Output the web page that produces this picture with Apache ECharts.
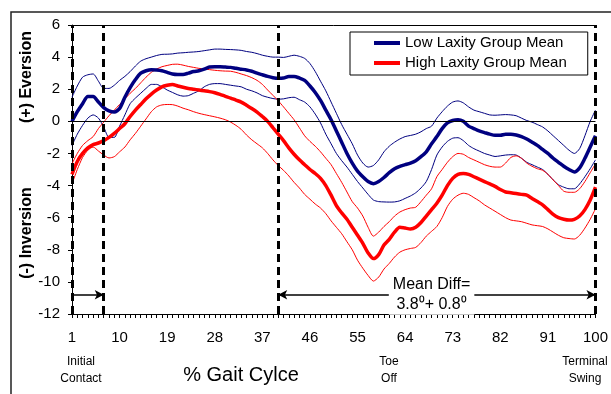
<!DOCTYPE html>
<html><head><meta charset="utf-8">
<script src="https://cdn.jsdelivr.net/npm/echarts@6/dist/echarts.min.js"></script>
<style>html,body{margin:0;padding:0;background:#fff}#c{width:611px;height:394px}</style>
</head><body><div id="c"></div>
<script>
const categories = ['1','2','3','4','5','6','7','8','9','10','11','12','13','14','15','16','17','18','19','20',
'21','22','23','24','25','26','27','28','29','30','31','32','33','34','35','36','37','38','39','40',
'41','42','43','44','45','46','47','48','49','50','51','52','53','54','55','56','57','58','59','60',
'61','62','63','64','65','66','67','68','69','70','71','72','73','74','75','76','77','78','79','80',
'81','82','83','84','85','86','87','88','89','90','91','92','93','94','95','96','97','98','99','100'];
const xTickLabels = ['1','10','19','28','37','46','55','64','73','82','91','100'];
const yMin = -12, yMax = 6, yStep = 2;

const lowMean = [
0.0,0.6,1.1,1.55,1.55,1.2,0.85,0.65,0.58,0.8,
1.5,2.1,2.6,3.0,3.15,3.22,3.2,3.15,3.05,2.95,
2.92,2.92,3.0,3.1,3.15,3.25,3.38,3.4,3.4,3.38,
3.36,3.3,3.25,3.2,3.12,3.0,2.9,2.8,2.72,2.68,
2.7,2.8,2.8,2.7,2.55,2.2,1.8,1.3,0.7,0.1,
-0.6,-1.3,-2.0,-2.6,-3.1,-3.45,-3.75,-3.88,-3.75,-3.5,
-3.2,-2.95,-2.8,-2.7,-2.6,-2.45,-2.2,-1.9,-1.4,-0.95,
-0.45,-0.1,0.05,0.1,0.0,-0.3,-0.45,-0.6,-0.7,-0.8,
-0.87,-0.87,-0.8,-0.8,-0.85,-0.95,-1.1,-1.3,-1.5,-1.75,
-2.0,-2.3,-2.55,-2.8,-3.0,-3.15,-2.9,-2.3,-1.6,-0.9];
const lowUpper = [
1.5,2.2,2.75,2.9,2.95,2.5,2.05,2.05,2.25,2.55,
2.8,3.1,3.45,3.75,3.9,4.0,4.1,4.17,4.18,4.2,
4.25,4.27,4.3,4.32,4.35,4.4,4.45,4.5,4.5,4.48,
4.47,4.45,4.42,4.35,4.3,4.22,4.12,4.05,4.0,4.0,
3.98,4.05,4.12,4.05,3.92,3.6,3.1,2.5,1.9,1.2,
0.5,-0.2,-0.8,-1.4,-2.1,-2.6,-2.85,-2.75,-2.4,-1.9,
-1.55,-1.3,-1.1,-0.95,-0.88,-0.8,-0.65,-0.45,-0.3,0.2,
0.6,0.95,1.2,1.27,1.15,0.9,0.7,0.6,0.5,0.4,
0.38,0.4,0.42,0.4,0.35,0.2,0.05,-0.05,-0.2,-0.35,
-0.6,-0.9,-1.2,-1.5,-1.8,-2.0,-1.7,-0.9,0.0,0.7];
const lowLower = [
-1.5,-0.8,-0.25,0.2,0.4,0.2,-0.35,-1.0,-1.0,-0.3,
0.4,1.1,1.45,1.75,2.05,2.3,2.3,2.15,1.95,1.8,
1.65,1.57,1.6,1.75,1.9,2.15,2.3,2.35,2.35,2.3,
2.25,2.2,2.15,2.0,1.9,1.77,1.6,1.5,1.42,1.38,
1.4,1.47,1.5,1.35,1.2,0.9,0.45,-0.1,-0.8,-1.4,
-2.0,-2.45,-2.85,-3.3,-3.75,-4.15,-4.55,-4.9,-5.0,-5.02,
-5.03,-5.02,-4.95,-4.8,-4.65,-4.45,-4.15,-3.75,-3.0,-2.1,
-1.6,-1.25,-1.05,-1.02,-1.2,-1.5,-1.7,-1.85,-2.0,-2.1,
-2.19,-2.15,-2.1,-2.08,-2.1,-2.3,-2.55,-2.7,-2.85,-3.0,
-3.3,-3.65,-3.95,-4.1,-4.2,-4.2,-3.9,-3.45,-2.95,-2.4];
const highMean = [
-3.3,-2.5,-2.0,-1.65,-1.45,-1.35,-1.2,-1.0,-0.75,-0.45,
-0.15,0.3,0.7,1.05,1.4,1.7,1.95,2.15,2.25,2.3,
2.2,2.12,2.05,2.0,1.95,1.9,1.85,1.78,1.68,1.56,
1.45,1.32,1.2,1.0,0.8,0.58,0.3,0.0,-0.4,-0.8,
-1.2,-1.65,-2.05,-2.4,-2.7,-3.0,-3.25,-3.55,-4.0,-4.6,
-5.25,-5.7,-6.1,-6.6,-7.1,-7.6,-8.2,-8.55,-8.3,-7.7,
-7.35,-6.9,-6.6,-6.65,-6.7,-6.6,-6.3,-5.9,-5.5,-5.1,
-4.6,-4.0,-3.55,-3.3,-3.25,-3.3,-3.45,-3.6,-3.75,-3.9,
-4.05,-4.25,-4.4,-4.45,-4.5,-4.55,-4.6,-4.8,-5.0,-5.2,
-5.5,-5.8,-6.0,-6.1,-6.15,-6.1,-5.9,-5.5,-4.9,-4.1];
const highUpper = [
-2.65,-2.0,-1.5,-1.2,-0.95,-0.45,-0.05,0.35,0.7,1.05,
1.4,1.75,2.05,2.4,2.75,3.05,3.25,3.4,3.48,3.55,
3.56,3.5,3.42,3.36,3.3,3.26,3.22,3.18,3.15,3.13,
3.12,3.05,2.95,2.85,2.72,2.55,2.3,1.95,1.62,1.28,
0.9,0.5,0.1,-0.4,-0.9,-1.25,-1.55,-1.9,-2.3,-2.7,
-3.25,-3.8,-4.4,-5.0,-5.4,-5.9,-6.6,-7.15,-6.9,-6.55,
-6.25,-5.9,-5.65,-5.5,-5.4,-5.35,-5.0,-4.6,-4.2,-3.45,
-3.0,-2.55,-2.2,-2.0,-2.05,-2.25,-2.4,-2.55,-2.7,-2.8,
-2.85,-2.85,-2.6,-2.25,-2.15,-2.3,-2.6,-2.8,-2.95,-3.05,
-3.3,-3.65,-4.0,-4.35,-4.42,-4.42,-4.2,-3.75,-3.2,-2.65];
const highLower = [
-3.9,-3.0,-2.25,-1.8,-1.6,-1.85,-2.1,-2.28,-2.2,-1.9,
-1.6,-1.15,-0.75,-0.3,0.15,0.6,0.9,1.02,1.05,1.04,
0.95,0.82,0.72,0.6,0.5,0.42,0.35,0.28,0.2,0.1,
-0.05,-0.25,-0.5,-0.85,-1.15,-1.4,-1.65,-2.0,-2.4,-2.75,
-3.05,-3.4,-3.8,-4.15,-4.55,-4.85,-5.15,-5.4,-5.75,-6.2,
-6.6,-7.0,-7.5,-8.0,-8.65,-9.15,-9.6,-9.95,-9.7,-9.2,
-8.85,-8.45,-8.15,-8.0,-7.92,-7.85,-7.55,-7.15,-6.85,-6.55,
-6.0,-5.3,-4.85,-4.6,-4.48,-4.55,-4.75,-4.95,-5.2,-5.4,
-5.6,-5.8,-6.0,-6.15,-6.2,-6.25,-6.35,-6.45,-6.5,-6.55,
-6.7,-6.9,-7.1,-7.25,-7.3,-7.33,-7.1,-6.65,-6.1,-5.45];

const phaseLines = ['1','7','40','100'];
const arrowY = -10.8;
const shortArrow = ['1','7'];
const longArrow = ['40','100'];
const diffLabelAt = '69';
const diffText = 'Mean Diff=\n3.8\u2070+ 0.8\u2070';
const legendNames = ['Low Laxity Group Mean','High Laxity Group Mean'];

const FONT = '"Liberation Sans", Arial, sans-serif';
const NAVY = '#000080', RED = '#ff0000';
const idx = c => categories.indexOf(c);

function line(name, data, color, width, z) {
  return {name, type:'line', data, symbol:'none', smooth:0.25, silent:true,
    lineStyle:{color, width}, itemStyle:{color}, z, animation:false};
}

const chart = echarts.init(document.getElementById('c'), null, {renderer:'canvas'});
chart.setOption({
  animation:false,
  backgroundColor:'#fff',
  grid:{left:72, right:8, top:25, bottom:80},
  legend:{data:legendNames, left:350, top:32, orient:'vertical', borderColor:'#000', borderWidth:1,
    padding:[3,21,4,24], itemGap:4, itemWidth:26, itemHeight:4, icon:'rect', selectedMode:false,
    textStyle:{fontSize:15, fontFamily:FONT, color:'#000', lineHeight:16}},
  xAxis:[{type:'category', data:categories, boundaryGap:false,
    axisLine:{onZero:false, lineStyle:{color:'#000', width:1}},
    axisTick:{show:true, interval:0, length:4, lineStyle:{color:'#000', width:1}},
    axisLabel:{interval:(i,v)=>xTickLabels.includes(v), fontSize:15, fontFamily:FONT, color:'#000', margin:16},
    splitLine:{show:false}},
   {type:'category', data:categories, boundaryGap:false, position:'top',
    axisLine:{show:true, onZero:false, lineStyle:{color:'#000', width:1}}, axisTick:{show:false}, axisLabel:{show:false}, splitLine:{show:false}}],
  yAxis:{type:'value', min:yMin, max:yMax, interval:yStep,
    axisLine:{show:true, onZero:false, lineStyle:{color:'#000', width:1}},
    axisTick:{show:true, length:4, lineStyle:{color:'#000'}},
    axisLabel:{fontSize:15, fontFamily:FONT, color:'#000', margin:12},
    splitLine:{show:false}},
  series:[
    line('Low Upper', lowUpper, NAVY, 1, 2),
    line('Low Lower', lowLower, NAVY, 1, 2),
    line('High Upper', highUpper, RED, 1, 2),
    line('High Lower', highLower, RED, 1, 2),
    line(legendNames[0], lowMean, NAVY, 3.5, 3),
    line(legendNames[1], highMean, RED, 3.5, 3),
    {name:'annot', type:'line', data:[], silent:true, z:4,
      markLine:{silent:true, symbol:['none','none'], animation:false, label:{show:false},
        data:[
          {yAxis:0, lineStyle:{color:'#000', width:1, type:'solid'}},
          ...phaseLines.map(c=>({xAxis:idx(c), lineStyle:{color:'#000', width:3, type:[8,5]}})),
          [{coord:[idx(shortArrow[0]), arrowY], symbol:'none', lineStyle:{color:'#000', width:1.5, type:'solid'}},
           {coord:[idx(shortArrow[1]), arrowY], symbol:'arrow', symbolSize:[7,9]}],
          [{coord:[idx(longArrow[0]), arrowY], symbol:'arrow', symbolSize:[7,9], lineStyle:{color:'#000', width:1.5, type:'solid'}},
           {coord:[idx(longArrow[1]), arrowY], symbol:'arrow', symbolSize:[7,9]}]
        ]}},
    {name:'annotText', type:'line', data:[], silent:true, z:6,
      markPoint:{silent:true, animation:false, symbol:'circle', symbolSize:0,
        data:[{coord:[idx(diffLabelAt), arrowY],
          label:{show:true, position:'inside', formatter:diffText, fontSize:16, lineHeight:20,
            fontFamily:FONT, color:'#000', backgroundColor:'#fff', padding:[0,4]}}]}}
  ],
  graphic:[
    {type:'polyline', shape:{points:[[11,394],[11,12],[611,12]]}, style:{stroke:'#222', lineWidth:1.5, fill:null}, silent:true},
    {type:'text', x:27, y:77, rotation:Math.PI/2, style:{text:'(+) Eversion', x:0, y:0, align:'center', verticalAlign:'middle', textAlign:'center', textVerticalAlign:'middle', font:'bold 16px "Liberation Sans", Arial, sans-serif', fill:'#000'}},
    {type:'text', x:27, y:233, rotation:Math.PI/2, style:{text:'(-) Inversion', x:0, y:0, align:'center', verticalAlign:'middle', textAlign:'center', textVerticalAlign:'middle', font:'bold 16px "Liberation Sans", Arial, sans-serif', fill:'#000'}},
    {type:'text', x:241, y:375, style:{text:'% Gait Cylce', align:'center', verticalAlign:'middle', textAlign:'center', textVerticalAlign:'middle', font:'20px "Liberation Sans", Arial, sans-serif', fill:'#000'}},
    {type:'text', x:81, y:370, style:{text:'Initial\nContact', align:'center', verticalAlign:'middle', textAlign:'center', textVerticalAlign:'middle', font:'12px "Liberation Sans", Arial, sans-serif', lineHeight:17, fill:'#000'}},
    {type:'text', x:389, y:370, style:{text:'Toe\nOff', align:'center', verticalAlign:'middle', textAlign:'center', textVerticalAlign:'middle', font:'12px "Liberation Sans", Arial, sans-serif', lineHeight:17, fill:'#000'}},
    {type:'text', x:585, y:370, style:{text:'Terminal\nSwing', align:'center', verticalAlign:'middle', textAlign:'center', textVerticalAlign:'middle', font:'12px "Liberation Sans", Arial, sans-serif', lineHeight:17, fill:'#000'}}
  ]
});
</script></body></html>
